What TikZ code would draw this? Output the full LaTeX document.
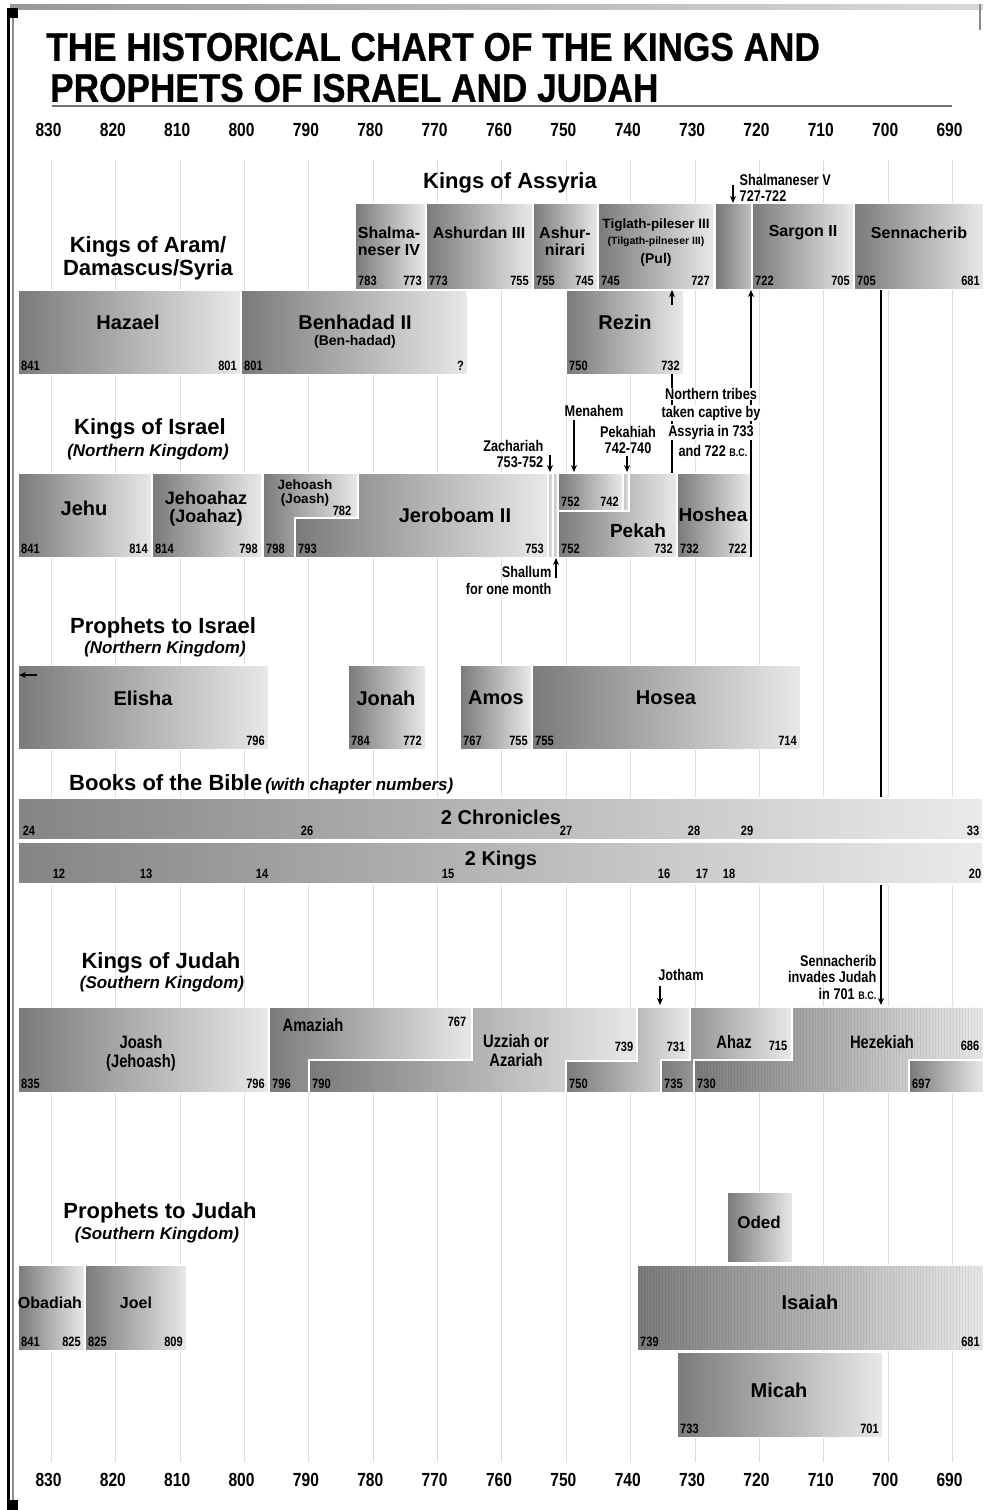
\documentclass[tikz,border=0pt]{standalone}
\usepackage{fontspec}
\setmainfont{Liberation Sans}
\newfontfamily\condf[FakeStretch=0.82]{Liberation Sans}
\newfontfamily\titlef[FakeStretch=0.88,FakeBold=0.6]{Liberation Sans}
\usetikzlibrary{arrows.meta}
\tikzset{
	reign/.style={left color=black!52, right color=black!9, draw=white, line width=1pt},
	darkreign/.style={left color=black!54, right color=black!25, draw=white, line width=1pt},
	thinreign/.style={left color=black!24, right color=black!12, draw=white, line width=0.6pt},
	book/.style={left color=black!48, right color=black!8, draw=white, line width=1.2pt},
	gridline/.style={black!13, line width=0.9pt},
	axisyr/.style={font=\condf\bfseries\fontsize{19}{19}\selectfont},
	heading/.style={font=\bfseries\fontsize{22}{23}\selectfont, align=center, inner sep=1pt},
	subhead/.style={font=\bfseries\itshape\fontsize{17}{18}\selectfont, inner sep=1pt},
	king/.style={font=\bfseries\fontsize{20}{21}\selectfont, align=center, inner sep=1pt},
	pking/.style={font=\bfseries\fontsize{16}{17}\selectfont, align=center, inner sep=1pt},
	cking/.style={font=\condf\bfseries\fontsize{18}{19}\selectfont, align=center, inner sep=1pt},
	yl/.style={font=\condf\bfseries\fontsize{13.5}{13.5}\selectfont, anchor=south west, inner sep=3pt},
	yr/.style={font=\condf\bfseries\fontsize{13.5}{13.5}\selectfont, anchor=south east, inner sep=3pt},
	chap/.style={font=\condf\bfseries\fontsize{13.5}{13.5}\selectfont, inner sep=1pt},
	note/.style={font=\condf\bfseries\fontsize{15.5}{16.5}\selectfont, inner sep=0.5pt},
	pointer/.style={-{Stealth[length=7pt,width=6pt]}, line width=1.5pt},
	stripe/.style={black, opacity=0.06, line width=0.8pt},
}
\newcommand{\bcsmall}{{\fontsize{11}{11}\selectfont B.C.}}
\begin{document}
\begin{tikzpicture}[x=1pt, y=-1pt]
	\useasboundingbox (0,0) rectangle (983,1510);
	\fill[white] (0,0) rectangle (983,1510);

	\shade[left color=black!40, right color=black!15] (10,4) rectangle (983,9);
	\fill[black] (7,8) rectangle (10,1510);
	\draw[black!45, line width=1.2pt] (13,14) -- (13,1500);
	\fill[black] (7,8) rectangle (18,18);
	\fill[black] (7,1500) rectangle (18,1510);
	\draw[black!45, line width=1.2pt] (980,4) -- (980,30);

	\foreach \yr [count=\i from 0] in {830,820,...,690} {
		\draw[gridline] ({51.4+\i*64.36},160) -- ({51.4+\i*64.36},1462);
		\node[axisyr] (top\yr) at ({48.5+\i*64.36},130) {\yr};
		\node[axisyr] (bot\yr) at ({48.5+\i*64.36},1480) {\yr};
	}

	\node[anchor=west, inner sep=0pt, font=\titlef\bfseries\fontsize{40}{42}\selectfont] (title1) at (46,47) {THE HISTORICAL CHART OF THE KINGS AND};
	\node[anchor=west, inner sep=0pt, font=\titlef\bfseries\fontsize{40}{42}\selectfont] (title2) at (50,88) {PROPHETS OF ISRAEL AND JUDAH};
	\draw[black!55, line width=1.2pt] (52,106) -- (952,106);

	\coordinate (sennB) at (881,289);
	\coordinate (hezT) at (881,1005);
	\draw[pointer] (sennB) -- (hezT);

	\node[heading] (assyria) at (510,183) {Kings of Assyria};
	\path[reign] (355,203) rectangle (425,289);
	\path[reign] (426,203) rectangle (532,289);
	\path[reign] (533,203) rectangle (597,289);
	\path[reign] (598,203) rectangle (713,289);
	\path[darkreign] (715,203) rectangle (751,289);
	\path[reign] (752,203) rectangle (853,289);
	\path[reign] (854,203) rectangle (983,289);
	\node[pking] (shalIV) at (389,241) {Shalma-\\neser IV};
	\node[yl] (shalIVa) at (355,289) {783};
	\node[yr] (shalIVb) at (425,289) {773};
	\node[pking] (ashurdan) at (479,233) {Ashurdan III};
	\node[yl] (ashurdana) at (426,289) {773};
	\node[yr] (ashurdanb) at (532,289) {755};
	\node[pking] (ashurnirari) at (565,241) {Ashur-\\nirari};
	\node[yl] (ashurnirara) at (533,289) {755};
	\node[yr] (ashurnirarb) at (597,289) {745};
	\node[font=\bfseries\fontsize{13.5}{14}\selectfont, inner sep=1pt] (tiglath) at (656,225) {Tiglath-pileser III};
	\node[font=\bfseries\fontsize{10.5}{11}\selectfont, inner sep=1pt] (tilgath) at (656,242) {(Tilgath-pilneser III)};
	\node[font=\bfseries\fontsize{14}{15}\selectfont, inner sep=1pt] (pul) at (656,260) {(Pul)};
	\node[yl] (tiglatha) at (598,289) {745};
	\node[yr] (tiglathb) at (713,289) {727};
	\node[pking] (sargon) at (803,233) {Sargon II};
	\node[yl] (sargona) at (752,289) {722};
	\node[yr] (sargonb) at (853,289) {705};
	\node[pking] (sennach) at (919,233) {Sennacherib};
	\node[yl] (senna) at (854,289) {705};
	\node[yr] (sennb) at (983,289) {681};
	\node[note, align=left, anchor=west] (shalV) at (739,188) {Shalmaneser V\\727-722};
	\coordinate (shalVa) at (733,185);
	\coordinate (shalVb) at (733,203);
	\draw[pointer] (shalVa) -- (shalVb);

	\node[heading] (aram) at (148,258) {Kings of Aram/\\Damascus/Syria};
	\path[reign] (18,290) rectangle (240,374);
	\path[reign] (241,290) rectangle (467,374);
	\path[reign] (566,290) rectangle (683,374);
	\node[king] (hazael) at (128,322) {Hazael};
	\node[yl] (hazaela) at (18,374) {841};
	\node[yr] (hazaelb) at (240,374) {801};
	\node[king] (benhadad) at (355,322) {Benhadad II};
	\node[font=\bfseries\fontsize{14}{15}\selectfont, inner sep=1pt] (benhadad2) at (355,342) {(Ben-hadad)};
	\node[yl] (benhadada) at (241,374) {801};
	\node[yr] (benhadadb) at (467,374) {?};
	\node[king] (rezin) at (625,322) {Rezin};
	\node[yl] (rezina) at (566,374) {750};
	\node[yr] (rezinb) at (683,374) {732};
	\coordinate (rezinUp) at (672,305);
	\coordinate (tiglathB) at (672,290);
	\draw[pointer] (rezinUp) -- (tiglathB);

	\node[heading] (israel) at (150,429) {Kings of Israel};
	\node[subhead] (israel2) at (148,452) {(Northern Kingdom)};
	\path[reign] (18,473) rectangle (151,557);
	\path[reign] (152,473) rectangle (261,557);
	\path[reign] (263,473) -- (357,473) -- (357,517) -- (294,517) -- (294,557) -- (263,557) -- cycle;
	\path[reign] (295,557) -- (295,518) -- (358,518) -- (358,473) -- (547,473) -- (547,557) -- cycle;
	\path[thinreign] (548,473) rectangle (552,557);
	\path[thinreign] (553,473) rectangle (557,557);
	\path[reign] (558,473) rectangle (622,510);
	\path[thinreign] (623,473) rectangle (628,510);
	\path[reign] (558,557) -- (558,511) -- (629,511) -- (629,473) -- (676,473) -- (676,557) -- cycle;
	\path[reign] (677,473) rectangle (750,557);
	\node[king] (jehu) at (84,508) {Jehu};
	\node[yl] (jehua) at (18,557) {841};
	\node[yr] (jehub) at (151,557) {814};
	\node[font=\bfseries\fontsize{18}{18}\selectfont, align=center, inner sep=1pt] (jehoahaz) at (206,509) {Jehoahaz\\(Joahaz)};
	\node[yl] (jehoahaza) at (152,557) {814};
	\node[yr] (jehoahazb) at (261,557) {798};
	\node[font=\bfseries\fontsize{13.5}{13.5}\selectfont, align=center, inner sep=1pt] (jehoash) at (305,493) {Jehoash\\(Joash)};
	\node[chap] (jehoashb) at (342,511) {782};
	\node[yl] (jehoasha) at (263,557) {798};
	\node[king] (jeroboam) at (455,515) {Jeroboam II};
	\node[yl] (jeroboama) at (295,557) {793};
	\node[yr] (jeroboamb) at (547,557) {753};
	\node[yl] (menahema) at (558,510) {752};
	\node[yr] (menahemb) at (622,510) {742};
	\node[king, font=\bfseries\fontsize{19}{20}\selectfont] (pekah) at (638,531) {Pekah};
	\node[yl] (pekaha) at (558,557) {752};
	\node[yr] (pekahb) at (676,557) {732};
	\node[king, font=\bfseries\fontsize{19}{20}\selectfont] (hoshea) at (713,515) {Hoshea};
	\node[yl] (hosheaa) at (677,557) {732};
	\node[yr] (hosheab) at (750,557) {722};

	\coordinate (rezinB) at (672,374);
	\coordinate (pekahT) at (672,473);
	\draw[line width=1.5pt] (rezinB) -- (pekahT);
	\coordinate (hosheaB) at (751,557);
	\coordinate (sargonB) at (751,290);
	\draw[pointer] (hosheaB) -- (sargonB);
	\node[note, fill=white] (tribes1) at (711,394) {Northern tribes};
	\node[note, fill=white] (tribes2) at (711,413) {taken captive by};
	\node[note, fill=white] (tribes3) at (711,432) {Assyria in 733};
	\node[note, fill=white] (tribes4) at (713,451) {and 722 \bcsmall};

	\node[note, align=right, anchor=east] (zachariah) at (544,454) {Zachariah\\753-752};
	\coordinate (zachA) at (550,455);
	\coordinate (zachB) at (550,472);
	\draw[pointer] (zachA) -- (zachB);
	\node[note] (menahem) at (594,411) {Menahem};
	\coordinate (menA) at (574,420);
	\coordinate (menB) at (574,472);
	\draw[pointer] (menA) -- (menB);
	\node[note, align=center] (pekahiah) at (628,440) {Pekahiah\\742-740};
	\coordinate (pekA) at (627,456);
	\coordinate (pekB) at (627,472);
	\draw[pointer] (pekA) -- (pekB);
	\node[note, align=right, anchor=north east] (shallum) at (552,566) {Shallum\\for one month};
	\coordinate (shalA) at (556,578);
	\coordinate (shalB) at (556,558);
	\draw[pointer] (shalA) -- (shalB);

	\node[heading] (prophIsr) at (163,628) {Prophets to Israel};
	\node[subhead] (prophIsr2) at (165,649) {(Northern Kingdom)};
	\path[reign] (18,665) rectangle (268,749);
	\path[reign] (348,665) rectangle (425,749);
	\path[reign] (460,665) rectangle (531,749);
	\path[reign] (532,665) rectangle (800,749);
	\node[king] (elisha) at (143,698) {Elisha};
	\node[yr] (elishab) at (268,749) {796};
	\coordinate (elishaA) at (37,675);
	\coordinate (elishaB) at (19,675);
	\draw[pointer, line width=1.3pt] (elishaA) -- (elishaB);
	\node[king] (jonah) at (386,698) {Jonah};
	\node[yl] (jonaha) at (348,749) {784};
	\node[yr] (jonahb) at (425,749) {772};
	\node[king] (amos) at (496,698) {Amos};
	\node[yl] (amosa) at (460,749) {767};
	\node[yr] (amosb) at (531,749) {755};
	\node[king] (hosea) at (666,698) {Hosea};
	\node[yl] (hoseaa) at (532,749) {755};
	\node[yr] (hoseab) at (800,749) {714};

	\node[anchor=west, inner sep=0pt] (books) at (69,784) {\bfseries\fontsize{22}{23}\selectfont Books of the Bible\kern3pt{\itshape\fontsize{17}{18}\selectfont(with chapter numbers)}};
	\path[book] (18,798) rectangle (983,840);
	\path[book] (18,842) rectangle (983,884);
	\node[king] (chron) at (501,817) {2 Chronicles};
	\node[king] (kings) at (501,860) {2 Kings};
	\foreach \c/\x in {24/29, 26/307, 27/566, 28/694, 29/747, 33/973}
		\node[chap] (chron\c) at (\x,831) {\c};
	\foreach \c/\x in {12/59, 13/146, 14/262, 15/448, 16/664, 17/702, 18/729, 20/975}
		\node[chap] (kings\c) at (\x,874) {\c};

	\node[heading] (judah) at (161,963) {Kings of Judah};
	\node[subhead] (judah2) at (162,984) {(Southern Kingdom)};
	\path[reign] (18,1007) rectangle (268,1092);
	\path[reign] (269,1092) -- (269,1007) -- (471,1007) -- (471,1059) -- (308,1059) -- (308,1092) -- cycle;
	\path[reign] (309,1092) -- (309,1060) -- (472,1060) -- (472,1007) -- (636,1007) -- (636,1060) -- (565,1060) -- (565,1092) -- cycle;
	\path[reign] (566,1092) -- (566,1061) -- (637,1061) -- (637,1007) -- (689,1007) -- (689,1059) -- (660,1059) -- (660,1092) -- cycle;
	\path[reign] (661,1092) -- (661,1060) -- (690,1060) -- (690,1007) -- (791,1007) -- (791,1059) -- (693,1059) -- (693,1092) -- cycle;
	\path[reign] (694,1092) -- (694,1060) -- (792,1060) -- (792,1007) -- (983,1007) -- (983,1059) -- (908,1059) -- (908,1092) -- cycle;
	\begin{scope}
		\clip (694,1092) -- (694,1060) -- (792,1060) -- (792,1007) -- (983,1007) -- (983,1059) -- (908,1059) -- (908,1092) -- cycle;
		\foreach \x in {695,698,...,983}
			\draw[stripe] (\x,1007) -- (\x,1092);
	\end{scope}
	\path[reign] (909,1060) rectangle (983,1092);
	\node[cking] (joash) at (141,1053) {Joash\\(Jehoash)};
	\node[yl] (joasha) at (18,1092) {835};
	\node[yr] (joashb) at (268,1092) {796};
	\node[cking] (amaziah) at (313,1025) {Amaziah};
	\node[chap] (amaziahb) at (457,1022) {767};
	\node[yl] (amaziaha) at (269,1092) {796};
	\node[cking] (uzziah) at (516,1051) {Uzziah or\\Azariah};
	\node[chap] (uzziahb) at (624,1047) {739};
	\node[yl] (uzziaha) at (309,1092) {790};
	\node[chap] (jothamb) at (676,1047) {731};
	\node[yl] (jothama) at (566,1092) {750};
	\node[cking] (ahaz) at (734,1042) {Ahaz};
	\node[chap] (ahazb) at (778,1046) {715};
	\node[yl] (ahaza) at (661,1092) {735};
	\node[cking] (hezekiah) at (882,1042) {Hezekiah};
	\node[chap] (hezekiahb) at (970,1046) {686};
	\node[yl] (hezekiaha) at (694,1092) {730};
	\node[yl] (manasseha) at (909,1092) {697};

	\node[note] (jotham) at (681,975) {Jotham};
	\coordinate (jothA) at (660,986);
	\coordinate (jothB) at (660,1005);
	\draw[pointer] (jothA) -- (jothB);
	\node[note, align=right, anchor=east] (invade) at (877,977) {Sennacherib\\invades Judah\\in 701 \bcsmall};

	\node[heading] (prophJud) at (160,1213) {Prophets to Judah};
	\node[subhead] (prophJud2) at (157,1235) {(Southern Kingdom)};
	\path[reign] (727,1192) rectangle (792,1262);
	\path[reign] (637,1265) rectangle (983,1350);
	\begin{scope}
		\clip (637,1265) rectangle (983,1350);
		\foreach \x in {638,641,...,983}
			\draw[stripe] (\x,1265) -- (\x,1350);
	\end{scope}
	\path[reign] (677,1352) rectangle (882,1437);
	\path[reign] (18,1265) rectangle (84,1350);
	\path[reign] (85,1265) rectangle (186,1350);
	\node[pking, font=\bfseries\fontsize{17}{18}\selectfont] (oded) at (759,1222) {Oded};
	\node[king] (isaiah) at (810,1302) {Isaiah};
	\node[yl] (isaiaha) at (637,1350) {739};
	\node[yr] (isaiahb) at (983,1350) {681};
	\node[king] (micah) at (779,1390) {Micah};
	\node[yl] (micaha) at (677,1437) {733};
	\node[yr] (micahb) at (882,1437) {701};
	\node[pking] (obadiah) at (50,1303) {Obadiah};
	\node[yl] (obadiaha) at (18,1350) {841};
	\node[yr] (obadiahb) at (84,1350) {825};
	\node[pking] (joel) at (136,1303) {Joel};
	\node[yl] (joela) at (85,1350) {825};
	\node[yr] (joelb) at (186,1350) {809};
\end{tikzpicture}
\end{document}
